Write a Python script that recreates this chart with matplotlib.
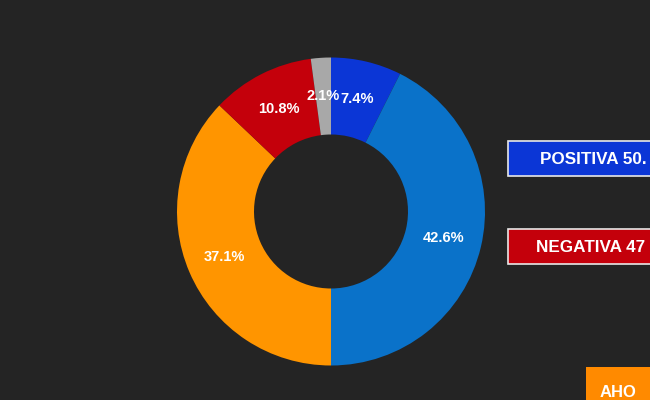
import matplotlib.pyplot as plt
from matplotlib.patches import Rectangle

# slices, clockwise from 12 o'clock
shares = [7.4, 42.6, 37.1, 10.8, 2.1]
slice_colors = ["#0b36d6", "#0a72c9", "#ff9500", "#c4000b", "#a8a8a8"]

# summary boxes on the right (cut by the frame edge in the source)
box_labels = ["POSITIVA 50.", "NEGATIVA 47"]
box_colors = ["#0b36d6", "#c4000b"]

W, H = 650, 400
bg = "#242424"
plt.rcParams["font.family"] = ["Liberation Sans", "DejaVu Sans"]

fig = plt.figure(figsize=(W / 100, H / 100), dpi=100, facecolor=bg)

# overlay axes in pixel coordinates (y down)
ov = fig.add_axes([0, 0, 1, 1])
ov.set_xlim(0, W)
ov.set_ylim(H, 0)
ov.axis("off")
ov.set_facecolor(bg)

# donut
cx, cy, r = 331, 211.5, 154
pie_ax = fig.add_axes([(cx - r) / W, (H - cy - r) / H, 2 * r / W, 2 * r / H])
wedges, texts, autotexts = pie_ax.pie(
    shares, colors=slice_colors, startangle=90, counterclock=False,
    autopct="%.1f%%", pctdistance=0.75,
    wedgeprops=dict(width=0.5, linewidth=0),
    textprops=dict(color="white", fontsize=10.5, fontweight="bold"))
pie_ax.set_aspect("equal")
pie_ax.set_xlim(-1, 1)
pie_ax.set_ylim(-1, 1)

# summary boxes
tops = [141, 229]
lefts = [540, 536]
for lab, col, top, tx in zip(box_labels, box_colors, tops, lefts):
    ov.add_patch(Rectangle((508, top), 160, 35, facecolor=col,
                           edgecolor="#e8e8e8", linewidth=1.2))
    ov.text(tx, top + 18, lab, color="white", fontsize=12.3,
            fontweight="bold", va="center", ha="left")

# channel logo corner
ov.add_patch(Rectangle((586, 367), 80, 40, facecolor="#ff8a00", edgecolor="none"))
ov.text(600, 385, "AHO", color="white", fontsize=12, fontweight="bold",
        va="top", ha="left")

fig.savefig("out.png", dpi=100, facecolor=bg)
